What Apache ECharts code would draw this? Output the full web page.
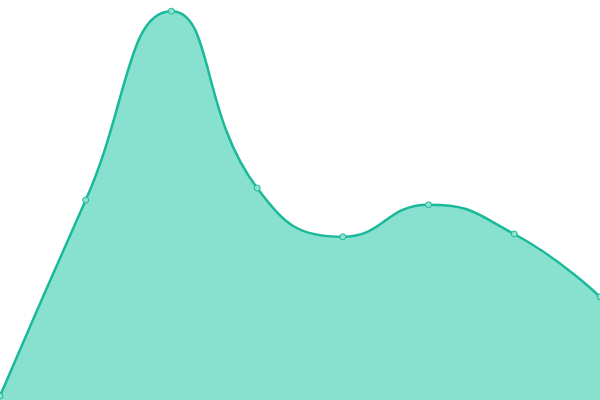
<!DOCTYPE html>
<html><head><meta charset="utf-8">
<script src="https://cdn.jsdelivr.net/npm/echarts@6/dist/echarts.min.js"></script>
<style>html,body{margin:0;padding:0;background:#fff}#c{width:600px;height:400px}</style>
</head><body><div id="c"></div>
<script>
const categories = ['A','B','C','D','E','F','G','H'];
const values = [1, 50, 97.2, 53, 40.8, 48.8, 41.5, 25.8];
const chart = echarts.init(document.getElementById('c'));
chart.setOption({
  animation: false,
  grid: {left: 0, right: 0, top: 0, bottom: 0},
  xAxis: {type: 'category', data: categories, boundaryGap: false, show: false},
  yAxis: {type: 'value', min: 0, max: 100, show: false},
  series: [{
    type: 'line',
    data: values,
    smooth: true,
    symbol: 'circle',
    symbolSize: 6,
    lineStyle: {color: '#1ab99a', width: 2.5},
    itemStyle: {color: '#8ee0cf', borderColor: '#1ab99a', borderWidth: 1},
    areaStyle: {color: '#88e0cf', opacity: 1}
  }]
});
</script></body></html>
